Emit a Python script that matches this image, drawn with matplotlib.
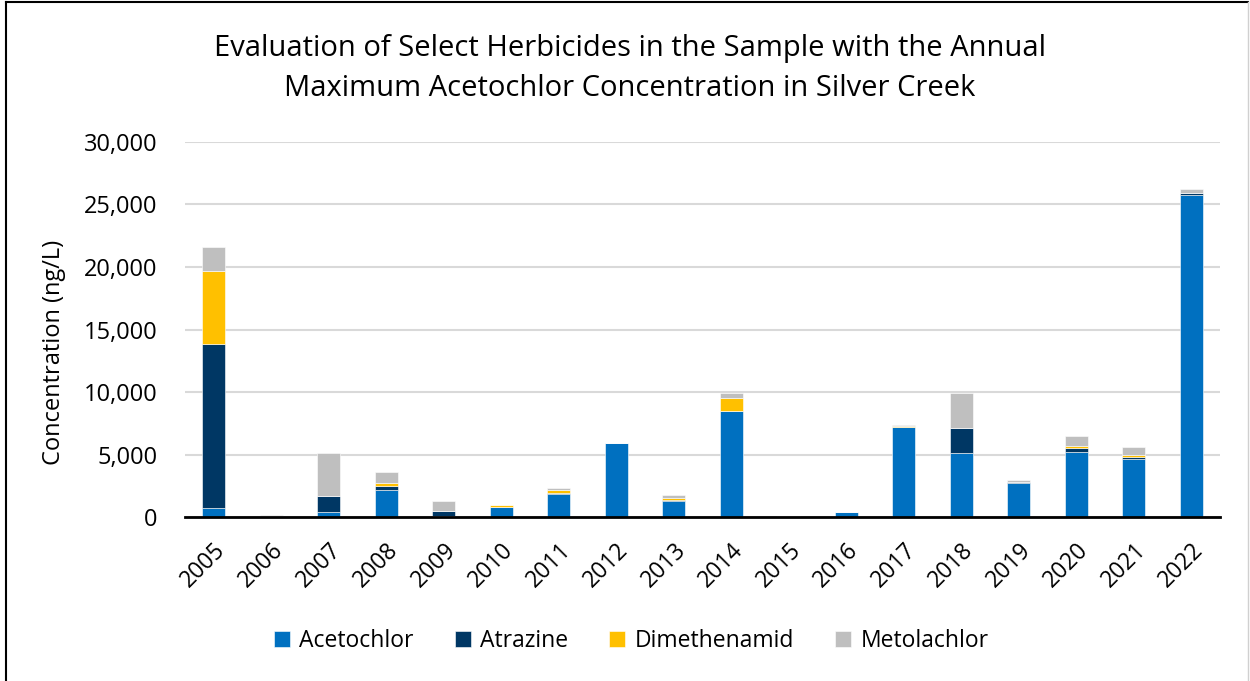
import numpy as np
import matplotlib.pyplot as plt
from matplotlib.lines import Line2D

years = [str(y) for y in range(2005, 2023)]
acetochlor = [720, 0, 400, 2160, 80, 820, 1870, 5950, 1280, 8450, 20, 400, 7200, 5100, 2700, 5210, 4620, 25770]
atrazine = [13150, 120, 1250, 340, 420, 20, 30, 0, 50, 60, 0, 0, 0, 2060, 80, 320, 210, 110]
dimethenamid = [5800, 0, 0, 200, 0, 120, 230, 0, 170, 1020, 0, 0, 80, 0, 0, 130, 140, 0]
metolachlor = [1950, 50, 3470, 930, 750, 20, 190, 0, 260, 370, 60, 0, 80, 2800, 180, 810, 640, 380]

series = [("Acetochlor", acetochlor, "#0070C0"),
          ("Atrazine", atrazine, "#003764"),
          ("Dimethenamid", dimethenamid, "#FFC000"),
          ("Metolachlor", metolachlor, "#BFBFBF")]

font = "Open Sans"
plt.rcParams['font.family'] = [font, 'DejaVu Sans']

fig = plt.figure(figsize=(12.5, 6.81), dpi=100)
ax = fig.add_axes([0.148, 0.2408, 0.828, 0.5507])

x = np.arange(len(years))
bottom = np.zeros(len(years))
for name, vals, color in series:
    vals = np.array(vals, dtype=float)
    ax.bar(x, vals, width=0.4, bottom=bottom, color=color, label=name,
           edgecolor="white", linewidth=0.4, zorder=3)
    bottom += vals

ax.set_xlim(-0.5, len(years) - 0.5)
ax.set_ylim(0, 30000)
ax.set_yticks(np.arange(0, 30001, 5000))
ax.set_yticklabels([f"{v:,}" for v in range(0, 30001, 5000)], fontsize=17)
ax.set_xticks(x)
ax.set_xticklabels(years, rotation=45, ha="right", rotation_mode="anchor", fontsize=16.5)
ax.tick_params(axis="y", length=0, pad=20)
ax.tick_params(axis="x", length=0, pad=15)
ax.grid(axis="y", color="#D9D9D9", linewidth=1.5, zorder=0)
for s in ["top", "right", "left"]:
    ax.spines[s].set_visible(False)
ax.spines["bottom"].set_linewidth(2)
ax.spines["bottom"].set_zorder(4)
ax.set_ylabel("Concentration (ng/L)", fontsize=17)
ax.yaxis.set_label_coords(-0.115, 0.44)

fig.text(0.504, 0.9, "Evaluation of Select Herbicides in the Sample with the Annual\n"
         "Maximum Acetochlor Concentration in Silver Creek",
         ha="center", va="center", fontsize=21, linespacing=1.5)

handles, labels = ax.get_legend_handles_labels()
fig.legend(handles, labels, loc="center", bbox_to_anchor=(0.505, 0.059), ncol=4,
           frameon=False, fontsize=16.5, handlelength=0.7, handleheight=0.7,
           handletextpad=0.4, columnspacing=1.8)

# chart border
fig.add_artist(Line2D([0.0045, 0.0045], [0, 0.997], color="black", linewidth=1.5))
fig.add_artist(Line2D([0.0045, 0.998], [0.997, 0.997], color="black", linewidth=1.5))
fig.add_artist(Line2D([0.998, 0.998], [0, 0.997], color="#D0D0D0", linewidth=1.0))

fig.savefig("out.png", dpi=100)
